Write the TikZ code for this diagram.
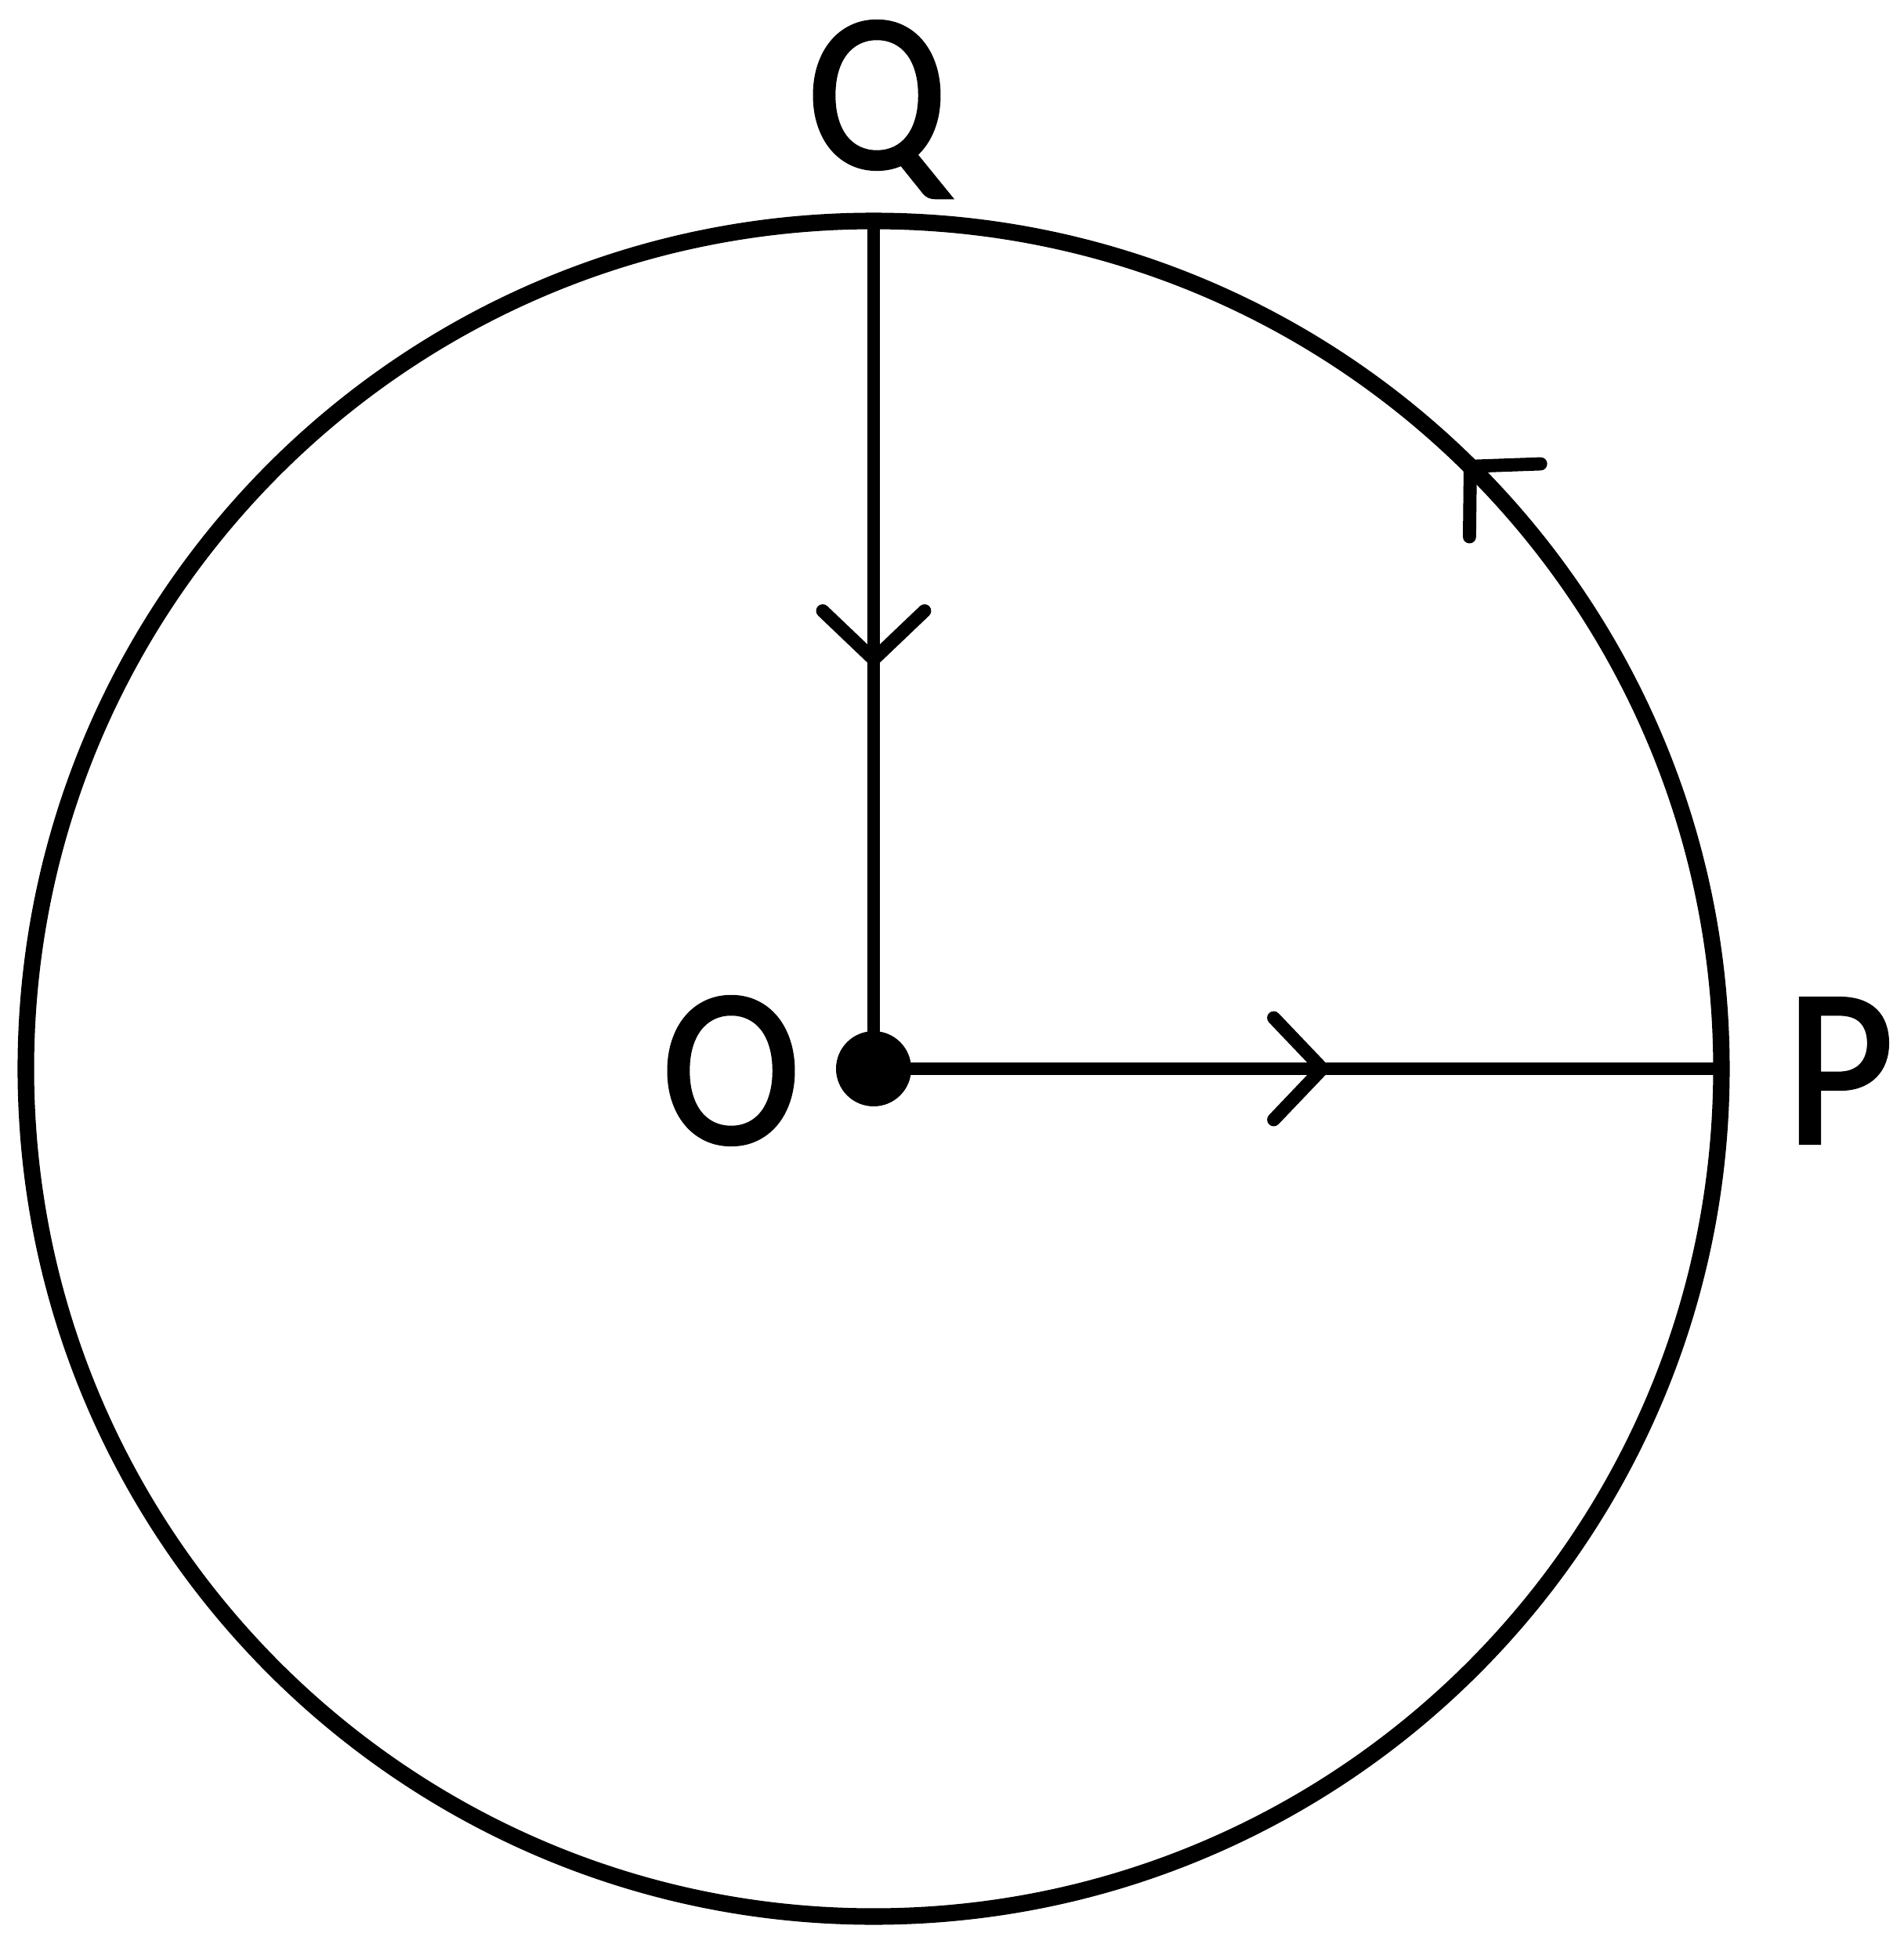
\documentclass[tikz,border=0pt]{standalone}
\usepackage{fontspec}
\setmainfont{Carlito}
\newfontfamily\lblfont{Carlito}[FakeBold=1.5, FakeStretch=0.93]
\usetikzlibrary{arrows.meta, decorations.markings, positioning}

\begin{document}
\begin{tikzpicture}[
    rim/.style={line width=6pt},
    radius line/.style={line width=4.8pt},
    midarrow/.style={postaction={decorate}, decoration={markings,
        mark=at position #1 with {\arrow[line width=4.8pt]{Straight Barb[length=0.62cm, width=1.3cm, round]}}}},
    lbl/.style={font=\fontsize{82}{98}\selectfont\lblfont, inner sep=0pt, anchor=base}
]
\useasboundingbox (-11.15,-11.26) rectangle (13.15,13.64);
% centre and the ends of the two radii
\coordinate (O) at (0,0);
\coordinate (Q) at (90:10.82);
\coordinate (P) at (0:10.82);

% circle, arrow runs anticlockwise
\draw[rim, midarrow=0.127] (O) circle (10.82);
\draw[radius line, midarrow=0.525] (Q) -- (O);
\draw[radius line, midarrow=0.537] (O) -- (P);
\fill (O) circle (0.48);

\node[lbl] (labelQ) at (0.04,11.50) {Q};
\node[lbl] (labelO) at (-1.82,-0.95) {O};
\node[lbl] (labelP) at (12.33,-0.95) {P};
\end{tikzpicture}
\end{document}
